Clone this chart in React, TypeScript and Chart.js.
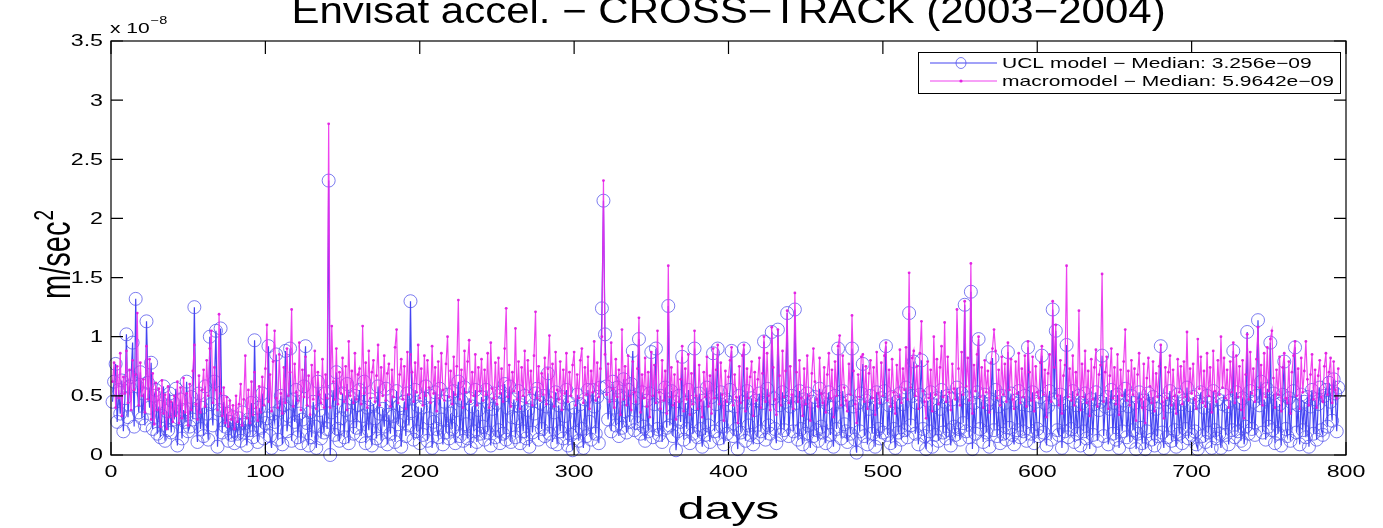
import { useEffect, useRef } from 'react';
import { Chart, registerables } from 'chart.js';

Chart.register(...registerables);

// ---- data (values in units of 1e-8 m/sec^2, one value per day starting at firstDay) ----
const firstDay = 1;

const uclValues = [
  0.45,0.62,0.77,0.28,0.55,0.35,0.63,0.20,0.48,1.02,0.32,0.58,0.66,0.95,0.24,1.32,0.58,0.36,0.70,0.31,
  0.52,0.25,1.13,0.61,0.40,0.78,0.22,0.50,0.55,0.18,0.41,0.15,0.33,0.58,0.12,0.37,0.21,0.52,0.19,0.45,
  0.30,0.56,0.08,0.31,0.47,0.14,0.38,0.28,0.62,0.20,0.24,0.49,0.30,1.25,0.36,0.11,0.52,0.22,0.40,0.16,
  0.58,0.35,0.13,1.00,0.43,0.25,0.62,1.05,0.07,0.38,1.07,0.19,0.45,0.24,0.35,0.12,0.28,0.17,0.32,0.10,
  0.26,0.18,0.31,0.12,0.36,0.19,0.27,0.08,0.30,0.21,0.44,0.15,0.97,0.29,0.11,0.40,0.23,0.52,0.14,0.27,
  0.31,0.92,0.16,0.06,0.35,0.28,0.85,0.13,0.38,0.50,0.09,0.42,0.88,0.20,0.33,0.90,0.12,0.47,0.28,0.55,
  0.15,0.35,0.10,0.30,0.58,0.92,0.27,0.08,0.36,0.15,0.45,0.24,0.06,0.62,0.38,0.14,0.33,0.19,0.52,0.22,
  2.32,0.00,0.36,0.55,0.17,0.70,0.22,0.12,0.31,0.52,0.15,0.38,0.60,0.10,0.34,0.48,0.18,0.50,0.23,0.42,
  0.55,0.16,0.33,0.62,0.10,0.40,0.21,0.47,0.08,0.43,0.31,0.14,0.58,0.35,0.12,0.39,0.24,0.56,0.09,0.34,
  0.18,0.50,0.33,0.11,0.54,0.26,0.42,0.07,0.29,0.45,0.16,0.52,0.25,1.30,0.37,0.13,0.55,0.20,0.41,0.10,
  0.40,0.17,0.48,0.58,0.12,0.31,0.50,0.06,0.28,0.53,0.22,0.15,0.56,0.30,0.09,0.45,0.19,0.51,0.14,0.35,
  0.22,0.54,0.10,0.38,0.62,0.16,0.46,0.12,0.57,0.26,0.14,0.48,0.06,0.41,0.20,0.55,0.11,0.38,0.18,0.49,
  0.24,0.13,0.55,0.19,0.43,0.08,0.39,0.52,0.15,0.44,0.21,0.10,0.53,0.18,0.60,0.13,0.40,0.58,0.11,0.32,
  0.47,0.15,0.31,0.54,0.10,0.42,0.20,0.50,0.14,0.38,0.07,0.46,0.19,0.35,0.52,0.56,0.13,0.44,0.22,0.50,
  0.16,0.41,0.69,0.18,0.48,0.11,0.36,0.53,0.09,0.42,0.20,0.49,0.14,0.33,0.55,0.08,0.44,0.17,0.04,0.40,
  0.19,0.51,0.12,0.43,0.22,0.06,0.47,0.16,0.55,0.28,0.13,0.55,0.41,0.18,0.49,0.10,0.57,1.24,2.15,1.02,
  0.58,0.30,0.52,0.20,0.62,0.40,0.25,0.57,0.16,0.50,0.23,0.64,0.37,0.19,0.55,0.28,0.60,0.88,0.21,0.48,
  0.27,0.98,0.18,0.53,0.24,0.12,0.46,0.20,0.52,0.87,0.15,0.43,0.90,0.22,0.17,0.50,0.11,0.41,0.57,0.23,
  1.26,0.25,0.54,0.16,0.45,0.04,0.20,0.50,0.28,0.83,0.13,0.44,0.22,0.55,0.10,0.40,0.18,0.90,0.43,0.15,
  0.52,0.22,0.07,0.46,0.17,0.57,0.25,0.11,0.49,0.86,0.20,0.43,0.90,0.14,0.53,0.24,0.09,0.47,0.18,0.42,
  0.55,0.88,0.16,0.41,0.22,0.05,0.50,0.19,0.45,0.90,0.12,0.54,0.25,0.17,0.48,0.09,0.38,0.46,0.15,0.52,
  0.20,0.44,0.96,0.13,0.56,0.25,0.18,1.04,0.48,0.22,0.10,1.06,0.42,0.17,0.53,0.21,0.45,1.20,0.16,0.41,
  0.50,0.20,1.23,0.44,0.13,0.54,0.22,0.09,0.47,0.18,0.52,0.25,0.06,0.45,0.16,0.49,0.21,0.12,0.56,0.24,
  0.19,0.47,0.10,0.43,0.53,0.17,0.40,0.07,0.50,0.22,0.90,0.45,0.14,0.54,0.26,0.20,0.11,0.46,0.18,0.90,
  0.41,0.13,0.02,0.44,0.20,0.52,0.77,0.16,0.46,0.09,0.39,0.50,0.18,0.43,0.07,0.53,0.22,0.14,0.48,0.19,
  0.54,0.92,0.17,0.42,0.10,0.49,0.22,0.06,0.45,0.19,0.52,0.13,0.43,0.21,0.57,0.15,1.20,0.25,0.50,0.79,
  0.18,0.44,0.09,0.51,0.80,0.22,0.16,0.05,0.46,0.20,0.53,0.07,0.42,0.17,0.48,0.12,0.39,0.55,0.19,0.45,
  0.14,0.50,0.21,0.08,0.47,0.24,0.17,0.57,0.22,0.13,0.52,0.27,1.27,0.20,0.48,0.15,1.38,0.05,0.44,0.18,
  0.53,0.98,0.22,0.45,0.11,0.51,0.19,0.43,0.07,0.47,0.82,0.21,0.55,0.16,0.41,0.10,0.50,0.18,0.44,0.13,
  0.87,0.23,0.52,0.17,0.09,0.46,0.21,0.54,0.15,0.43,0.20,0.50,0.12,0.91,0.42,0.18,0.53,0.10,0.45,0.22,
  0.16,0.49,0.84,0.19,0.44,0.08,0.41,0.54,0.13,1.23,0.47,1.05,0.21,0.17,0.51,0.06,0.43,0.20,0.93,0.15,
  0.46,0.22,0.54,0.11,0.42,0.18,0.50,0.08,0.44,0.20,0.52,0.14,0.40,0.05,0.47,0.17,0.43,0.53,0.12,0.38,
  0.45,0.84,0.16,0.41,0.49,0.09,0.39,0.55,0.18,0.44,0.13,0.51,0.06,0.42,0.20,0.46,0.56,0.15,0.41,0.11,
  0.50,0.21,0.44,0.05,0.18,0.53,0.23,0.10,0.46,0.05,0.20,0.52,0.43,0.13,0.49,0.08,0.39,0.16,0.45,0.92,
  0.19,0.06,0.47,0.15,0.41,0.54,0.12,0.44,0.21,0.07,0.51,0.18,0.43,0.10,0.46,0.22,0.57,0.14,0.42,0.17,
  0.49,0.20,0.09,0.05,0.45,0.53,0.16,0.40,0.11,0.50,0.19,0.44,0.06,0.54,0.21,0.14,0.47,0.18,0.06,0.43,
  0.51,0.17,0.41,0.09,0.46,0.21,0.88,0.15,0.53,0.20,0.44,0.12,0.48,0.09,0.24,1.04,0.18,0.54,0.22,0.45,
  0.17,0.50,1.14,0.42,0.62,0.19,0.47,0.13,0.56,0.24,0.95,0.21,0.52,0.10,0.46,0.18,0.43,0.08,0.51,0.79,
  0.22,0.16,0.48,0.12,0.44,0.54,0.91,0.19,0.42,0.09,0.51,0.21,0.45,0.15,0.49,0.07,0.41,0.55,0.18,0.47,
  0.13,0.43,0.57,0.21,0.17,0.50,0.55,0.24,0.61,0.45,0.29,0.64,0.52,0.20,0.57,
];

const macroValues = [
  0.62,0.78,0.40,0.75,0.48,0.86,0.33,0.66,0.52,0.88,0.44,0.72,0.38,0.80,0.55,0.68,1.20,0.42,0.78,0.50,
  0.64,0.36,0.92,0.47,0.81,0.30,0.69,0.26,0.61,0.38,0.56,0.24,0.63,0.35,0.51,0.22,0.58,0.32,0.45,0.28,
  0.50,0.33,0.62,0.27,0.57,0.31,0.65,0.36,0.52,0.25,0.60,0.38,0.71,0.93,0.43,0.30,0.67,0.36,0.55,0.72,
  0.41,0.80,0.50,0.90,1.05,0.44,0.74,0.55,0.38,1.19,0.52,0.33,0.57,0.27,0.49,0.24,0.46,0.30,0.42,0.22,
  0.50,0.28,0.43,0.60,0.25,0.47,0.84,0.31,0.55,0.27,0.62,0.34,0.70,0.40,0.29,0.58,0.36,0.66,0.42,0.73,
  1.10,0.45,0.68,0.37,0.79,1.05,0.48,0.40,0.85,0.52,0.35,0.74,0.44,0.90,0.50,0.70,1.23,0.41,0.77,0.53,
  0.46,0.95,0.38,0.72,0.49,0.83,0.42,0.67,0.34,0.76,0.47,0.88,0.39,0.70,0.51,0.44,0.81,0.40,0.68,0.48,
  2.80,0.40,1.09,0.62,0.47,0.90,0.43,0.70,0.52,0.82,0.45,0.75,0.38,0.96,0.50,0.71,0.44,0.86,0.47,0.68,
  0.73,0.43,1.09,0.52,0.78,0.40,0.88,0.48,0.70,0.80,0.45,0.67,0.93,0.42,0.74,0.50,0.84,0.46,0.69,0.77,
  0.41,0.72,0.49,0.91,1.06,0.44,0.68,0.81,0.47,0.75,0.39,0.87,0.51,0.85,0.70,0.45,0.78,0.53,0.93,0.48,
  0.73,0.42,0.84,0.50,0.80,0.57,0.44,0.92,0.52,0.74,0.37,0.79,0.48,0.86,0.55,0.46,0.77,1.00,0.49,0.71,
  0.43,0.83,0.51,0.75,1.31,0.47,0.72,0.40,0.88,0.53,0.79,0.97,0.45,0.70,0.50,0.85,0.42,0.74,0.54,0.81,
  0.46,0.72,0.51,0.86,0.40,0.95,0.56,0.48,0.78,0.43,0.82,0.52,0.73,0.45,0.90,1.24,0.49,0.76,0.41,0.70,
  0.54,1.07,0.47,0.79,0.39,0.74,0.50,0.88,0.44,0.80,0.53,0.71,0.42,0.84,1.21,0.48,0.75,0.46,0.69,0.51,
  0.82,0.43,0.73,1.01,0.49,0.77,0.41,0.87,0.55,0.47,0.79,0.38,0.72,0.52,0.86,0.45,0.70,0.50,0.76,0.87,
  0.42,0.68,0.48,0.80,0.90,0.44,0.74,0.51,0.83,0.39,0.71,0.53,0.96,0.46,0.78,0.49,0.73,1.00,2.32,0.85,
  0.51,0.77,0.45,0.95,0.56,0.40,0.81,0.49,0.72,0.34,1.06,0.47,0.75,0.42,0.84,0.50,0.38,0.79,0.53,0.45,
  0.73,1.16,0.36,0.68,0.48,0.82,0.41,0.70,0.32,0.87,0.50,0.76,0.44,1.05,0.53,0.39,0.80,0.46,0.71,0.35,
  1.60,0.49,0.74,0.42,0.68,0.30,0.79,0.45,0.64,0.92,0.37,0.73,0.47,0.85,0.34,0.69,0.43,1.05,0.50,0.39,
  0.76,0.46,0.32,0.70,0.49,0.83,0.41,0.67,0.35,0.90,0.48,0.72,0.93,0.43,0.78,0.51,0.29,0.71,0.45,0.66,
  0.80,0.91,0.42,0.68,0.49,0.27,0.75,0.44,0.84,0.93,0.37,0.73,0.48,0.66,0.79,0.33,0.70,0.46,0.64,0.82,
  0.40,0.69,1.00,0.45,0.86,0.50,0.38,1.08,0.74,0.47,0.34,1.06,0.67,0.42,0.88,0.49,0.71,1.22,0.44,0.75,
  0.51,0.39,1.37,0.70,0.45,0.80,0.48,0.33,0.73,0.43,0.84,0.50,0.29,0.69,0.90,0.62,0.47,0.41,0.82,0.52,
  0.44,0.74,0.36,0.68,0.86,0.48,0.72,0.32,0.79,0.50,0.92,1.01,0.42,0.84,0.57,0.46,0.37,0.77,0.51,1.18,
  0.71,0.43,0.27,0.68,0.49,0.83,0.85,0.45,0.75,0.39,0.69,0.80,0.48,0.74,0.34,0.87,0.52,0.44,0.78,0.50,
  0.84,0.95,0.46,0.72,0.41,0.81,0.53,0.35,0.76,0.49,0.89,0.44,0.73,0.55,0.91,0.47,1.54,0.57,0.82,0.88,
  0.50,0.75,0.39,0.86,1.13,0.54,0.45,0.31,0.79,0.48,0.72,0.37,1.00,0.51,0.81,0.43,0.74,0.92,0.49,1.12,
  0.45,0.83,0.53,0.38,0.77,0.56,0.47,1.23,0.73,0.42,0.87,0.51,1.30,0.58,0.82,0.46,1.62,0.35,0.76,0.54,
  0.85,1.00,0.49,0.74,0.40,0.80,0.53,0.71,0.36,0.78,0.90,1.06,0.88,0.48,0.72,0.42,0.83,0.51,0.77,0.45,
  0.95,0.55,0.81,0.47,0.39,0.79,0.52,0.86,0.44,0.73,0.49,0.84,0.41,0.96,0.70,0.46,0.83,0.37,0.75,0.53,
  0.48,0.78,0.92,0.51,0.72,0.32,0.69,0.85,0.45,1.30,0.74,1.10,0.50,0.42,0.80,0.35,0.67,0.76,1.60,0.49,
  0.73,0.46,0.84,0.42,0.70,0.51,1.22,0.38,0.77,0.49,0.88,0.44,0.71,0.33,0.81,0.47,0.74,0.89,0.41,0.68,
  0.76,1.53,0.45,0.70,0.83,0.39,0.67,0.90,0.48,0.74,0.43,0.85,0.34,0.72,0.50,0.79,1.06,0.46,0.71,0.42,
  0.80,0.51,0.73,0.29,0.68,0.86,0.47,0.40,0.77,0.27,0.65,0.82,0.58,0.44,0.79,0.37,0.69,0.49,0.75,0.93,
  0.45,0.31,0.74,0.48,0.70,0.84,0.42,0.72,0.50,0.35,0.81,0.53,0.75,0.43,0.79,0.49,1.04,0.46,0.73,0.52,
  0.77,0.47,0.39,0.98,0.56,0.83,0.44,0.71,0.41,0.86,0.50,0.74,0.36,0.88,0.54,0.45,0.80,0.51,1.00,0.57,
  0.82,0.48,0.72,0.40,0.79,0.53,0.95,0.44,0.84,0.49,0.75,0.38,0.80,0.31,0.68,1.02,0.47,0.87,0.52,0.73,
  0.45,0.81,1.08,0.57,0.76,0.42,0.86,0.49,0.91,0.54,0.98,1.05,0.65,0.40,0.72,0.51,0.83,0.37,0.74,0.86,
  0.48,0.44,0.79,0.35,0.70,0.84,0.96,0.50,0.73,0.39,0.82,0.53,0.71,0.96,0.64,0.42,0.68,0.85,0.47,0.72,
  0.40,0.67,0.80,0.49,0.45,0.75,0.86,0.51,0.70,0.82,0.44,0.79,0.55,0.48,0.73,
];

const xTicks = [0, 100, 200, 300, 400, 500, 600, 700, 800];
const yTicks = [0, 0.5, 1, 1.5, 2, 2.5, 3, 3.5];
const xTickLabels = ['0', '100', '200', '300', '400', '500', '600', '700', '800'];
const yTickLabels = ['0', '0.5', '1', '1.5', '2', '2.5', '3', '3.5'];

const titleText = 'Envisat accel. \u2212 CROSS\u2212TRACK (2003\u22122004)';
const xLabelText = 'days';
const yLabelText = 'm/sec';
const yLabelSup = '2';
const exponentText = 'x 10';
const exponentSup = '\u22128';
const legendLabels = [
  'UCL model \u2212 Median: 3.256e\u221209',
  'macromodel \u2212 Median: 5.9642e\u221209',
];

const FONT = "'Liberation Sans', Arial, Helvetica, sans-serif";
const SX = 1.45; // horizontal stretch of the original figure's text

const BLUE_LINE = 'rgba(35,35,240,0.85)';
const BLUE_MARK = 'rgba(80,80,235,0.75)';
const MAG_LINE = 'rgba(236,45,236,0.9)';
const MAG_MARK = 'rgba(225,30,225,0.95)';

function stretchedText(
  ctx: CanvasRenderingContext2D,
  text: string,
  x: number,
  y: number,
  size: number,
  align: CanvasTextAlign,
  baseline: CanvasTextBaseline,
  sx: number = SX,
  sy: number = 1,
) {
  ctx.save();
  ctx.font = `${size}px ${FONT}`;
  ctx.fillStyle = '#000';
  ctx.textAlign = align;
  ctx.textBaseline = baseline;
  ctx.translate(x, y);
  ctx.scale(sx, sy);
  ctx.fillText(text, 0, 0);
  ctx.restore();
}

const matlabFrame = {
  id: 'matlabFrame',
  afterDraw(chart: any) {
    const ctx: CanvasRenderingContext2D = chart.ctx;
    const area = chart.chartArea;
    const xs = chart.scales.x;
    const ys = chart.scales.y;
    const L = area.left, R = area.right, T = area.top, B = area.bottom;

    ctx.save();
    ctx.strokeStyle = '#000';
    ctx.lineWidth = 1.2;
    ctx.strokeRect(L, T, R - L, B - T);

    ctx.beginPath();
    xTicks.forEach((v) => {
      const px = xs.getPixelForValue(v);
      ctx.moveTo(px, B);
      ctx.lineTo(px, B - 13);
      ctx.moveTo(px, T);
      ctx.lineTo(px, T + 13);
    });
    yTicks.forEach((v) => {
      const py = ys.getPixelForValue(v);
      ctx.moveTo(L, py);
      ctx.lineTo(L + 12, py);
      ctx.moveTo(R, py);
      ctx.lineTo(R - 12, py);
    });
    ctx.stroke();
    ctx.restore();

    xTicks.forEach((v, i) => {
      stretchedText(ctx, xTickLabels[i], xs.getPixelForValue(v), 473, 16, 'center', 'middle');
    });
    yTicks.forEach((v, i) => {
      stretchedText(ctx, yTickLabels[i], L - 8, ys.getPixelForValue(v) + 1, 16, 'right', 'middle');
    });

    stretchedText(ctx, exponentText, L - 1, 33, 14.5, 'left', 'alphabetic');
    ctx.save();
    ctx.font = `14.5px ${FONT}`;
    const expW = ctx.measureText(exponentText).width * SX;
    ctx.restore();
    stretchedText(ctx, exponentSup, L - 1 + expW + 1, 24, 10, 'left', 'alphabetic');

    // title (partly cut off at the top, as in the original figure)
    stretchedText(ctx, titleText, (L + R) / 2, 23, 30, 'center', 'alphabetic', 1.4, 1.2);

    // x label
    stretchedText(ctx, xLabelText, (L + R) / 2, 519, 32, 'center', 'alphabetic', 1.5);

    // y label (rotated)
    ctx.save();
    ctx.fillStyle = '#000';
    ctx.font = `29px ${FONT}`;
    const baseW = ctx.measureText(yLabelText).width;
    ctx.font = `19px ${FONT}`;
    const supW = ctx.measureText(yLabelSup).width;
    const total = baseW + supW;
    const cy = 255;
    ctx.translate(70, cy + total / 2);
    ctx.rotate(-Math.PI / 2);
    ctx.scale(1, SX);
    ctx.textAlign = 'left';
    ctx.textBaseline = 'alphabetic';
    ctx.font = `29px ${FONT}`;
    ctx.fillText(yLabelText, 0, 0);
    ctx.font = `19px ${FONT}`;
    ctx.fillText(yLabelSup, baseW + 1, -12);
    ctx.restore();

    // legend
    const lx = 918, ly = 52, lw = 422, lh = 41;
    ctx.save();
    ctx.fillStyle = '#fff';
    ctx.fillRect(lx, ly, lw, lh);
    ctx.strokeStyle = '#000';
    ctx.lineWidth = 1;
    ctx.strokeRect(lx + 0.5, ly + 0.5, lw, lh);
    const rows = [63, 81];
    ctx.strokeStyle = BLUE_LINE;
    ctx.lineWidth = 1.2;
    ctx.beginPath();
    ctx.moveTo(930, rows[0]);
    ctx.lineTo(997, rows[0]);
    ctx.stroke();
    ctx.strokeStyle = BLUE_MARK;
    ctx.lineWidth = 1;
    ctx.beginPath();
    ctx.ellipse(961, rows[0], 5, 5.5, 0, 0, Math.PI * 2);
    ctx.stroke();
    ctx.strokeStyle = MAG_LINE;
    ctx.lineWidth = 1.2;
    ctx.beginPath();
    ctx.moveTo(930, rows[1]);
    ctx.lineTo(997, rows[1]);
    ctx.stroke();
    ctx.fillStyle = MAG_MARK;
    ctx.beginPath();
    ctx.arc(961, rows[1], 1.6, 0, Math.PI * 2);
    ctx.fill();
    ctx.restore();
    stretchedText(ctx, legendLabels[0], 1002, rows[0] + 1, 14.5, 'left', 'middle');
    stretchedText(ctx, legendLabels[1], 1002, rows[1] + 1, 14.5, 'left', 'middle');
  },
};

export default function App() {
  const canvasRef = useRef<HTMLCanvasElement | null>(null);

  useEffect(() => {
    if (!canvasRef.current) return;
    const uclData = uclValues.map((v, i) => ({ x: firstDay + i, y: v }));
    const macroData = macroValues.map((v, i) => ({ x: firstDay + i, y: v }));

    const chart = new Chart(canvasRef.current, {
      type: 'line',
      data: {
        datasets: [
          {
            label: legendLabels[0],
            data: uclData,
            borderColor: BLUE_LINE,
            borderWidth: 1.2,
            pointStyle: 'circle',
            pointRadius: 6.5,
            pointBorderWidth: 1,
            pointBorderColor: BLUE_MARK,
            pointBackgroundColor: 'rgba(0,0,0,0)',
            tension: 0,
            fill: false,
            clip: false,
            order: 1,
          },
          {
            label: legendLabels[1],
            data: macroData,
            borderColor: MAG_LINE,
            borderWidth: 1.2,
            pointStyle: 'circle',
            pointRadius: 1.4,
            pointBorderWidth: 0,
            pointBackgroundColor: MAG_MARK,
            tension: 0,
            fill: false,
            clip: false,
            order: 0,
          },
        ],
      },
      options: {
        animation: false,
        responsive: false,
        devicePixelRatio: 1,
        layout: { padding: { left: 111, right: 37, top: 41, bottom: 73 } },
        plugins: {
          legend: { display: false },
          title: { display: false },
          tooltip: { enabled: false },
        },
        events: [],
        scales: {
          x: { type: 'linear', display: false, min: 0, max: 800, ticks: { stepSize: 100 } },
          y: { type: 'linear', display: false, min: 0, max: 3.5, ticks: { stepSize: 0.5 } },
        },
      },
      plugins: [matlabFrame],
    });

    return () => chart.destroy();
  }, []);

  return (
    <div style={{ position: 'fixed', left: 0, top: 0, width: 1383, height: 528, background: '#fff' }}>
      <canvas ref={canvasRef} width={1383} height={528} style={{ display: 'block' }} />
    </div>
  );
}
